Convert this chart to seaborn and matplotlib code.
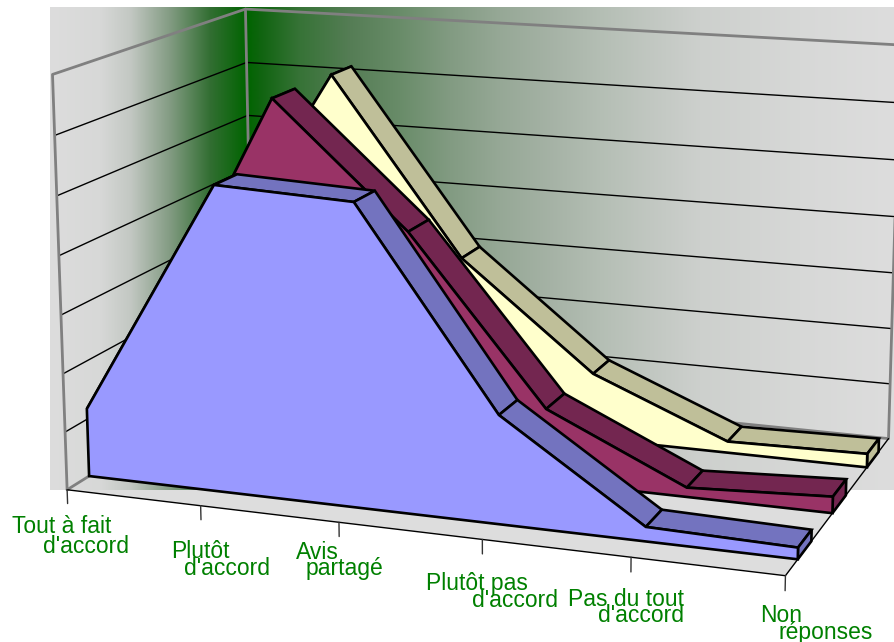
import numpy as np
import pandas as pd
import matplotlib.pyplot as plt
import seaborn as sns

# Values (percent)
categories = ["Tout à fait\nd'accord", "Plutôt\nd'accord", "Avis\npartagé",
              "Plutôt pas\nd'accord", "Pas du tout\nd'accord", "Non\nréponses"]
blue_values = [5.9, 26.0, 25.5, 9.1, 1.2, 0.95]
crimson_values = [8.5, 31.1, 20.5, 6.3, 0.8, 1.4]
cream_values = [12.0, 31.0, 15.3, 5.9, 1.0, 1.2]
y_ticks = [0, 5, 10, 15, 20, 25, 30, 35]

# Camera: world (category, value, depth) -> picture pixels
calib_world = [(0, 0, 0), (5, 0, 0), (0, 35, 0), (0, 0, 1), (0, 35, 1), (5, 35, 1), (5, 0, 1)]
calib_pixel = [(68, 489), (785, 577), (52, 74), (252, 375), (246, 9), (900, 45.5), (889, 437)]


def fit_camera(world, pixel):
    rows = []
    for (x, y, z), (u, v) in zip(world, pixel):
        rows.append([x, y, z, 1, 0, 0, 0, 0, -u * x, -u * y, -u * z, -u])
        rows.append([0, 0, 0, 0, x, y, z, 1, -v * x, -v * y, -v * z, -v])
    return np.linalg.svd(np.array(rows, float))[2][-1].reshape(3, 4)


camera = fit_camera(calib_world, calib_pixel)


def project(x, y, z):
    x, y, z = np.broadcast_arrays(x, y, z)
    pts = np.stack([x, y, z, np.ones_like(x)], axis=-1).astype(float)
    out = pts @ camera.T
    return out[..., :2] / out[..., 2:]


def line3d(ax, x, y, z, color, lw, zorder):
    pts = project(np.array(x, float), np.array(y, float), np.array(z, float))
    df = pd.DataFrame({"u": pts[:, 0], "v": pts[:, 1]})
    sns.lineplot(data=df, x="u", y="v", estimator=None, sort=False, ax=ax,
                 color=color, linewidth=lw, zorder=zorder, legend=False)


sns.set_theme(style="white", font="Liberation Sans")
fig = plt.figure(figsize=(8.94, 6.42), dpi=100)
ax = fig.add_axes([0, 0, 1, 1])

# Floor
floor = project(np.array([0, 5, 5, 0]), 0, np.array([0, 0, 1, 1]))
ax.fill(floor[:, 0], floor[:, 1], color="#dddddd", lw=0, zorder=1)

# Gradient behind the plot
grad_x = np.arange(50, 895)
stop_x = [50, 100, 130, 170, 210, 247, 260, 300, 350, 400, 450, 500, 550, 600, 650, 700, 800, 894]
stop_r = [221, 215, 195, 130, 50, 0, 15, 55, 85, 105, 130, 150, 165, 180, 193, 205, 215, 221]
stop_g = [221, 216, 200, 155, 110, 100, 100, 115, 125, 140, 155, 168, 178, 190, 199, 208, 216, 221]
red = np.interp(grad_x, stop_x, stop_r)
green = np.interp(grad_x, stop_x, stop_g)
grad = np.stack([red, green, red], axis=-1)[None, :, :] / 255
ax.imshow(grad, extent=(50, 894, 490, 7), aspect="auto", zorder=2, interpolation="bilinear")

# Grid lines on the two walls
for v in y_ticks[1:-1]:
    line3d(ax, [0, 0, 5], [v, v, v], [0, 1, 1], "black", 1.0, 3)

# Frame
line3d(ax, [0, 0, 0, 5], [0, 35, 35, 35], [0, 0, 1, 1], "#808080", 2.0, 4)
line3d(ax, [0, 0, 5, 5], [35, 0, 0, 35], [1, 1, 1, 1], "#808080", 2.0, 4)
line3d(ax, [0, 0], [0, 0], [0, 1], "#808080", 2.0, 4)

# Floor edges and ticks
line3d(ax, [0, 5, 5], [0, 0, 0], [0, 0, 1], "black", 1.0, 4)
for i in range(len(categories)):
    line3d(ax, [i, i], [0, -1.2], [0, 0], "#333333", 1.0, 4)


def draw_series(values, z0, z1, face, dark, zorder):
    xs = np.arange(len(values))
    vals = np.array(values)
    for i in range(len(values) - 1):
        top = project(np.array([i, i + 1, i + 1, i]),
                      np.array([vals[i], vals[i + 1], vals[i + 1], vals[i]]),
                      np.array([z0, z0, z1, z1]))
        ax.fill(top[:, 0], top[:, 1], facecolor=dark, edgecolor="black", lw=1.9,
                joinstyle="miter", zorder=zorder)
    end = xs[-1]
    cap = project(end, np.array([0, vals[-1], vals[-1], 0]), np.array([z0, z0, z1, z1]))
    ax.fill(cap[:, 0], cap[:, 1], facecolor=dark, edgecolor="black", lw=1.9,
            joinstyle="miter", zorder=zorder)
    front = project(np.r_[xs, end, 0], np.r_[vals, 0, 0], z0)
    ax.fill(front[:, 0], front[:, 1], facecolor=face, edgecolor="black", lw=1.9,
            joinstyle="miter", zorder=zorder + 0.5)


draw_series(cream_values, 0.765, 0.89, "#ffffcc", "#bfbf99", 5)
draw_series(crimson_values, 0.42, 0.55, "#993366", "#732650", 6)
draw_series(blue_values, 0.105, 0.225, "#9999ff", "#7373bf", 7)

# Tick labels, two staggered lines each
label_pos = [((12, 533), (43, 553)), ((171, 558), (184, 575)), ((296, 559), (306, 575)),
             ((426, 590), (472, 607)), ((568, 606), (598, 622)), ((760, 622), (778, 639))]
for label, pos in zip(categories, label_pos):
    for part, (px, py) in zip(label.split("\n"), pos):
        ax.text(px, py, part, color="#008000", fontsize=16.5, family="Liberation Sans",
                ha="left", va="baseline", zorder=9)

ax.set_xlim(0, 894)
ax.set_ylim(642, 0)
ax.axis("off")
fig.savefig("out.png", dpi=100)
